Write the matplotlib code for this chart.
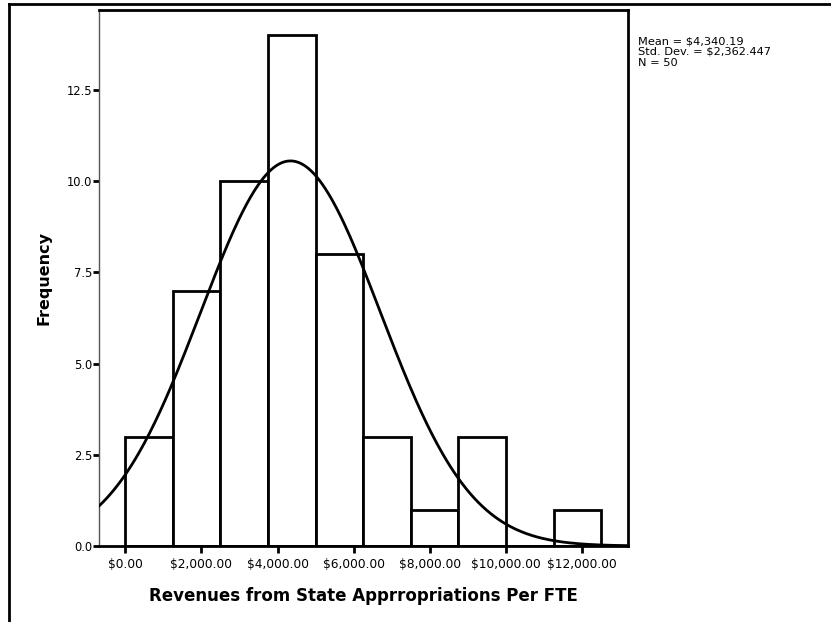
import matplotlib.pyplot as plt
from matplotlib.lines import Line2D
import numpy as np

# histogram of state appropriations per FTE (bins of $1,250)
bin_edges = [0, 1250, 2500, 3750, 5000, 6250, 7500, 8750, 10000, 11250, 12500]
counts = [3, 7, 10, 14, 8, 3, 1, 3, 0, 1]
mean = 4340.19
std_dev = 2362.447
n_obs = 50

x_ticks = [0, 2000, 4000, 6000, 8000, 10000, 12000]
y_ticks = [0.0, 2.5, 5.0, 7.5, 10.0, 12.5]

fig = plt.figure(figsize=(8.31, 6.22), dpi=100)
ax = fig.add_axes([0.1195, 0.1222, 0.6366, 0.8617])

lefts = bin_edges[:-1]
widths = np.diff(bin_edges)
ax.bar(lefts, counts, width=widths, align="edge", facecolor="white",
       edgecolor="black", linewidth=2, zorder=2)

# normal curve scaled to frequencies
xlim = (-680, 13210)
xs = np.linspace(xlim[0], xlim[1], 400)
scale = n_obs * widths[0]
ys = scale / (std_dev * np.sqrt(2 * np.pi)) * np.exp(-0.5 * ((xs - mean) / std_dev) ** 2)
ax.plot(xs, ys, color="black", linewidth=2, zorder=3)

ax.set_xlim(*xlim)
ax.set_ylim(0, 14.69)
ax.set_xticks(x_ticks)
ax.set_xticklabels(["${:,.2f}".format(v) for v in x_ticks], fontsize=8.8)
ax.set_yticks(y_ticks)
ax.set_yticklabels(["{:.1f}".format(v) for v in y_ticks], fontsize=8.3)
ax.tick_params(axis="both", direction="out", width=2, color="black")
ax.tick_params(axis="x", length=5, pad=4)
ax.tick_params(axis="y", length=4, pad=1)

for side in ["top", "right", "bottom"]:
    ax.spines[side].set_linewidth(2)
    ax.spines[side].set_color("black")
ax.spines["left"].set_linewidth(1)
ax.spines["left"].set_color("#555555")

ax.set_xlabel("Revenues from State Apprropriations Per FTE", fontsize=12,
              fontweight="bold", labelpad=11)
ax.set_ylabel("Frequency", fontsize=11.5, fontweight="bold", labelpad=11)

stats = "Mean = ${:,.2f}\nStd. Dev. = ${:,.3f}\nN = {}".format(mean, std_dev, n_obs)
fig.text(638 / 831, 1 - 36 / 622, stats, fontsize=8.2, va="top", ha="left",
         linespacing=1.12)

# frame around the chart
fig.add_artist(Line2D([8.5 / 831, 8.5 / 831], [0, 1 - 4 / 622],
                      transform=fig.transFigure, color="black", linewidth=2))
fig.add_artist(Line2D([8.5 / 831, 1], [1 - 4 / 622, 1 - 4 / 622],
                      transform=fig.transFigure, color="black", linewidth=2))

fig.savefig("out.png", dpi=100)
